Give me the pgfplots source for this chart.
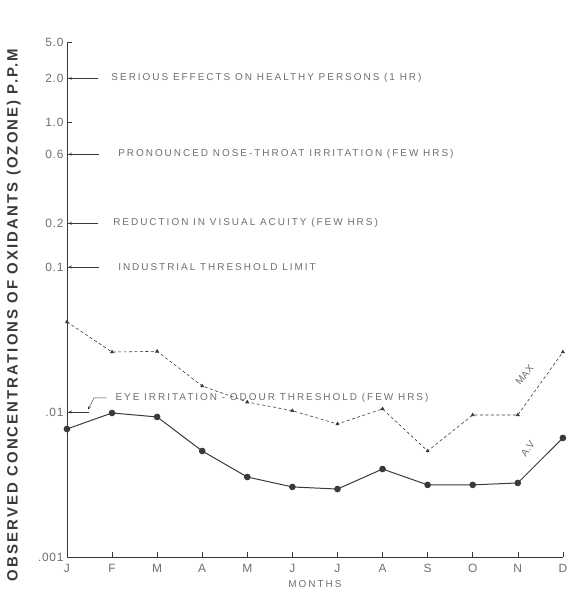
\documentclass[border=0pt]{standalone}
\usepackage{fontspec}
\setmainfont{Liberation Sans}
\usepackage{pgfplots}
\pgfplotsset{compat=1.18}
\definecolor{ink}{HTML}{3A3A3A}
\definecolor{txt}{HTML}{6E6E6E}
\newcommand{\lbl}{\fontsize{10}{12}\selectfont\addfontfeature{LetterSpace=20}}

\begin{document}
\begin{tikzpicture}
\begin{axis}[
  scale only axis, width=496bp, height=515bp,
  ymode=log, ymin=0.001, ymax=3.56, xmin=0, xmax=11,
  axis x line*=bottom, axis y line*=left,
  axis line style={ink, line width=0.8pt, -},
  xtick={0,...,11}, xticklabels={J,F,M,A,M,J,J,A,S,O,N,D},
  ytick={0.001,0.01,0.1,0.2,0.6,1,2,3.56},
  yticklabels={.001,.01,0.1,0.2,0.6,1.0,2.0,5.0},
  yminorticks=false,
  tick align=inside, major tick length=5bp,
  tick style={ink, line width=0.6pt},
  ticklabel style={font=\fontsize{12}{14}\selectfont\addfontfeature{LetterSpace=6}, text=txt},
  xticklabel style={yshift=-4bp},
  xlabel={MONTHS}, xlabel style={font=\lbl, text=txt, yshift=-1bp},
  clip=false,
]

% A.V. monthly means
\addplot[ink, line width=1pt, mark=*, mark size=2.8pt] coordinates {
  (0,0.00763) (1,0.00984) (2,0.00924) (3,0.00538) (4,0.00356) (5,0.00304)
  (6,0.00294) (7,0.00404) (8,0.00314) (9,0.00314) (10,0.00324) (11,0.00662)
};

% monthly maxima
\addplot[ink, line width=0.6pt, dash pattern=on 3pt off 2.5pt,
  mark=triangle*, mark size=1.8pt, mark options={solid}] coordinates {
  (0,0.0418) (1,0.0259) (2,0.0262) (3,0.0151) (4,0.0117) (5,0.0102)
  (6,0.00826) (7,0.0105) (8,0.00538) (9,0.00953) (10,0.00953) (11,0.0259)
};

% threshold annotations
\draw[ink, -stealth] (axis cs:0.68,2) -- (axis cs:0.04,2);
\node[anchor=west, font=\lbl, text=txt] at (axis cs:0.91,2) {SERIOUS EFFECTS ON HEALTHY PERSONS (1 HR)};
\draw[ink, -stealth] (axis cs:0.7,0.6) -- (axis cs:0.04,0.6);
\node[anchor=west, font=\lbl, text=txt] at (axis cs:1.06,0.6) {PRONOUNCED NOSE-THROAT IRRITATION (FEW HRS)};
\draw[ink, -stealth] (axis cs:0.68,0.2) -- (axis cs:0.04,0.2);
\node[anchor=west, font=\lbl, text=txt] at (axis cs:0.95,0.2) {REDUCTION IN VISUAL ACUITY (FEW HRS)};
\draw[ink, -stealth] (axis cs:0.7,0.1) -- (axis cs:0.04,0.1);
\node[anchor=west, font=\lbl, text=txt] at (axis cs:1.06,0.1) {INDUSTRIAL THRESHOLD LIMIT};
\draw[ink, -stealth] (axis cs:0.88,0.0125) -- (axis cs:0.6,0.0125) -- (axis cs:0.47,0.0104);
\draw[ink, -stealth] (axis cs:0.5,0.01) -- (axis cs:0.04,0.01);
\node[anchor=west, font=\lbl, text=txt] at (axis cs:1.0,0.0125) {EYE IRRITATION - ODOUR THRESHOLD (FEW HRS)};

\node[rotate=50, font=\fontsize{10}{12}\selectfont, text=txt] at (axis cs:10.15,0.018) {MAX};
\node[rotate=55, font=\fontsize{10}{12}\selectfont, text=txt] at (axis cs:10.22,0.0056) {A.V};

% y-axis title
\node[rotate=90, font=\fontsize{15}{17}\selectfont\bfseries\addfontfeature{LetterSpace=14}, text=ink]
  at (rel axis cs:-0.107,0.47) {OBSERVED CONCENTRATIONS OF OXIDANTS (OZONE) P.P.M};

\path (rel axis cs:-0.135,-0.07) rectangle (rel axis cs:1.006,1.0816);
\end{axis}
\end{tikzpicture}
\end{document}
